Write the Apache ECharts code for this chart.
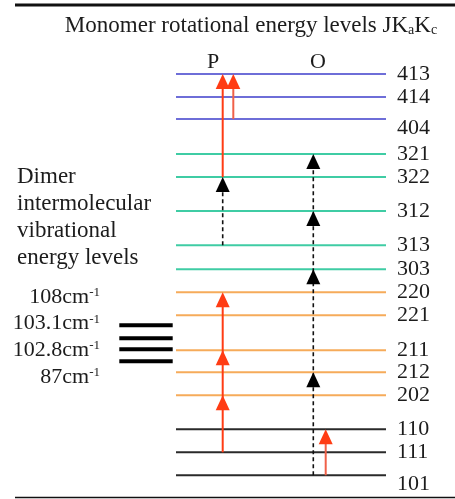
<!DOCTYPE html>
<html>
<head>
<meta charset="utf-8">
<script src="https://cdn.jsdelivr.net/npm/echarts@6/dist/echarts.min.js"></script>
<style>
  html, body { margin: 0; padding: 0; background: #fff; }
  #main { width: 455px; height: 499px; }
</style>
</head>
<body>
<div id="main"></div>
<script>
// monomer rotational levels JKaKc (top to bottom) and their height above 101
const levels = ['413', '414', '404', '321', '322', '312', '313', '303', '220', '221', '211', '212', '202', '110', '111', '101']
const heights = [401, 378, 356, 321, 298, 264, 230, 206, 183, 160, 125, 103, 80, 46, 23, 0]

// dimer intermolecular vibrational levels
const dimerLabels = ['108', '103.1', '102.8', '87']
const dimerHeights = [150, 137, 126, 114]

// transitions
const arrowCols = ['P', 'P', 'P', 'P2', 'O', 'O2']
const arrowFrom = ['111', '313', '322', '404', '101', '101']
const arrowTo = ['220', '322', '413', '413', '321', '110']
const arrowKind = ['red', 'dash', 'red', 'red', 'dash', 'red']
const arrowHeads = [['202', '211', '220'], ['322'], ['413'], ['413'], ['212', '303', '312', '321'], ['110']]

const FONT = '"Liberation Serif", "Times New Roman", serif'
const colX = { P: 112.7, P2: 123.3, O: 203.3, O2: 215.7 }
const levelColor = { '4': '#6e6ed8', '3': '#3fcca4', '2': '#f6ab5a', '1': '#2a2a2a' }
const labelShift = { '404': 9, '101': 9 }
const hOf = (name) => heights[levels.indexOf(name)]

const chart = echarts.init(document.getElementById('main'))

const sup = (v) => `{n|${v}cm}{s|-1}`

chart.setOption({
  animation: false,
  grid: { left: 110, right: 65, top: 74, bottom: 23.7 },
  xAxis: { type: 'value', min: 0, max: 280, show: false },
  yAxis: { type: 'value', min: 0, max: 401, show: false },
  graphic: [
    { type: 'line', shape: { x1: 15, y1: 5, x2: 455, y2: 5 }, style: { stroke: '#111', lineWidth: 3 } },
    { type: 'line', shape: { x1: 15, y1: 497.5, x2: 455, y2: 497.5 }, style: { stroke: '#111', lineWidth: 1.6 } },
    {
      type: 'text', x: 251, y: 26,
      style: {
        text: 'Monomer rotational energy levels JK{b|a}K{b|c}',
        font: `23px ${FONT}`, fill: '#1c1c1c', align: 'center', verticalAlign: 'middle',
        rich: { b: { fontSize: 14, fontFamily: FONT, verticalAlign: 'bottom', lineHeight: 23 } }
      }
    },
    { type: 'text', x: 213, y: 62, style: { text: 'P', font: `22px ${FONT}`, fill: '#1c1c1c', align: 'center', verticalAlign: 'middle' } },
    { type: 'text', x: 318, y: 62, style: { text: 'O', font: `22px ${FONT}`, fill: '#1c1c1c', align: 'center', verticalAlign: 'middle' } },
    {
      type: 'text', x: 17, y: 163,
      style: {
        text: 'Dimer\nintermolecular\nvibrational\nenergy levels',
        font: `23px ${FONT}`, fill: '#1c1c1c', lineHeight: 27
      }
    },
    ...dimerLabels.map((d, i) => ({
      type: 'text', x: 100, y: 297 + i * 26.7,
      style: {
        text: sup(d), align: 'right', verticalAlign: 'middle',
        rich: {
          n: { font: `22px ${FONT}`, fill: '#1c1c1c', lineHeight: 22 },
          s: { font: `13px ${FONT}`, fill: '#1c1c1c', verticalAlign: 'top', lineHeight: 22 }
        }
      }
    }))
  ],
  series: [
    {
      type: 'custom',
      clip: false,
      data: heights.map((h, i) => [h, i]),
      renderItem(params, api) {
        const name = levels[params.dataIndex]
        const y = api.coord([0, api.value(0)])[1]
        const x0 = api.coord([66, 0])[0]
        const x1 = api.coord([276, 0])[0]
        return {
          type: 'group',
          children: [
            { type: 'line', shape: { x1: x0, y1: y, x2: x1, y2: y }, style: { stroke: levelColor[name[0]], lineWidth: 2 } },
            {
              type: 'text', x: x1 + 11, y: y + (labelShift[name] || 0),
              style: { text: name, font: `22px ${FONT}`, fill: '#1c1c1c', verticalAlign: 'middle' }
            }
          ]
        }
      }
    },
    {
      type: 'custom',
      clip: false,
      data: dimerHeights.map((h, i) => [h, i]),
      renderItem(params, api) {
        const y = api.coord([0, api.value(0)])[1]
        const x0 = api.coord([9.3, 0])[0]
        const x1 = api.coord([62.7, 0])[0]
        return { type: 'rect', shape: { x: x0, y: y - 2, width: x1 - x0, height: 4 }, style: { fill: '#000' } }
      }
    },
    {
      type: 'custom',
      clip: false,
      z: 5,
      data: arrowCols.map((c, i) => [i]),
      renderItem(params, api) {
        const i = params.dataIndex
        const x = api.coord([colX[arrowCols[i]], 0])[0]
        const yFrom = api.coord([0, hOf(arrowFrom[i])])[1]
        const yTo = api.coord([0, hOf(arrowTo[i])])[1]
        const red = arrowKind[i] === 'red'
        const stroke = red ? '#ff3c14' : '#111'
        const children = [{
          type: 'line',
          shape: { x1: x, y1: yFrom, x2: x, y2: yTo + 6 },
          style: red ? { stroke: i === 5 || i === 3 ? '#f06048' : stroke, lineWidth: 2 } : { stroke, lineWidth: 1.6, lineDash: [4, 3] }
        }]
        arrowHeads[i].forEach((lv) => {
          const yt = api.coord([0, hOf(lv)])[1]
          children.push({
            type: 'polygon',
            shape: { points: [[x, yt], [x - 7, yt + 15], [x + 7, yt + 15]] },
            style: { fill: red ? '#ff3c14' : '#000' }
          })
        })
        return { type: 'group', children }
      }
    }
  ]
})
</script>
</body>
</html>
